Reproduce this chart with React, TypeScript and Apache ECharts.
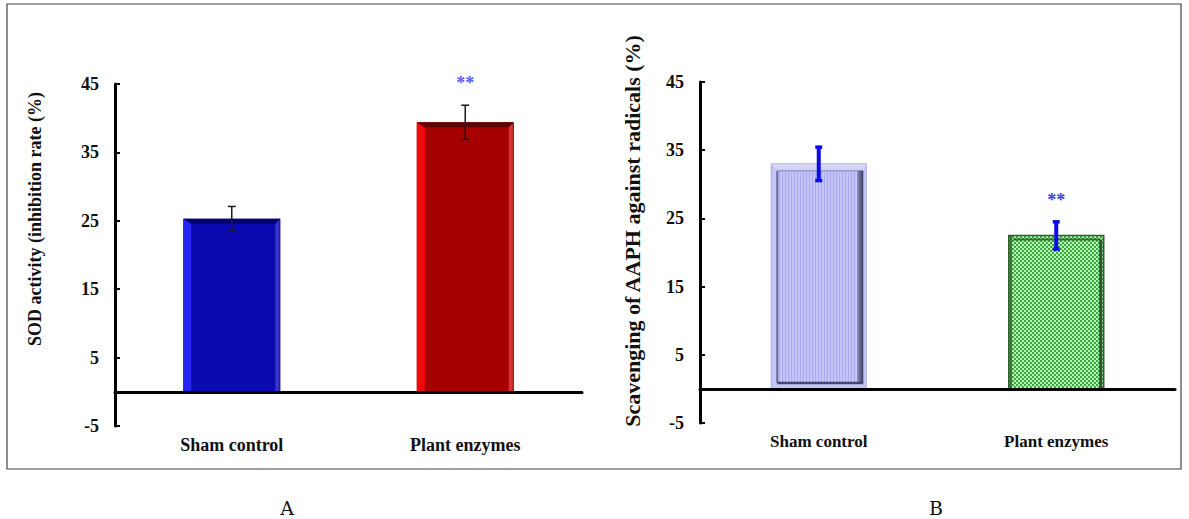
import React, { useEffect, useRef } from "react";
import * as echarts from "echarts";

// ---------- data ----------
const categories = ["Sham control", "Plant enzymes"];

const sodMeans = [25.3, 39.4];
const sodErrors = [1.8, 2.5];
const sodSignificance = ["", "**"];

const aaphMeans = [33.0, 22.5];
const aaphErrors = [2.45, 2.0];
const aaphSignificance = ["", "**"];

const yMin = -5;
const yMax = 45;
const yStep = 10;

const titleA = "SOD activity (inhibition rate (%)";
const titleB = "Scavenging of AAPH against radicals (%)";
const panelLabels = ["A", "B"];

// ---------- styles ----------
const serif = "Liberation Serif, serif";

const bevelColors = [
  { main: "#0a0ab0", left: "#2424f4", top: "#00006c", right: "#3434cc" },
  { main: "#a60000", left: "#f40808", top: "#5c0000", right: "#d83434" },
];

function makeStripes(): HTMLCanvasElement {
  const c = document.createElement("canvas");
  c.width = 3;
  c.height = 4;
  const ctx = c.getContext("2d")!;
  ctx.fillStyle = "#c4c4f8";
  ctx.fillRect(0, 0, 3, 4);
  ctx.fillStyle = "#aaaaee";
  ctx.fillRect(2, 0, 1, 4);
  return c;
}

function makeChecker(): HTMLCanvasElement {
  const c = document.createElement("canvas");
  c.width = 4;
  c.height = 4;
  const ctx = c.getContext("2d")!;
  ctx.fillStyle = "#bdeebd";
  ctx.fillRect(0, 0, 4, 4);
  ctx.fillStyle = "#34ae34";
  ctx.fillRect(0, 0, 2, 2);
  ctx.fillRect(2, 2, 2, 2);
  return c;
}

function bevelBar(x0: number, x1: number, y1: number, yb: number, c: any) {
  const l = 8, t = 5, r = 5;
  return [
    { type: "rect", shape: { x: x0, y: y1, width: x1 - x0, height: yb - y1 }, style: { fill: c.main } },
    { type: "polygon", shape: { points: [[x0, y1], [x0 + l, y1 + t], [x0 + l, yb], [x0, yb]] }, style: { fill: c.left } },
    { type: "polygon", shape: { points: [[x1, y1], [x1, yb], [x1 - r, yb], [x1 - r, y1 + t]] }, style: { fill: c.right } },
    { type: "polygon", shape: { points: [[x0, y1], [x1, y1], [x1 - r, y1 + t], [x0 + l, y1 + t]] }, style: { fill: c.top } },
    { type: "line", shape: { x1: x1 - 0.5, y1: y1, x2: x1 - 0.5, y2: yb }, style: { stroke: "#300000", lineWidth: 1, opacity: 0.5 } },
  ];
}

function lavenderBar(x0: number, x1: number, y1: number, yb: number, stripes: any) {
  const l = 6, t = 7, r = 3, b = 6;
  return [
    { type: "rect", shape: { x: x0, y: y1, width: x1 - x0, height: yb - y1 }, style: { fill: "#c6c6f6", stroke: "#a4a4e2", lineWidth: 1 } },
    { type: "polygon", shape: { points: [[x0, y1], [x1, y1], [x1 - r, y1 + t], [x0 + l, y1 + t]] }, style: { fill: "#d2d2fa" } },
    { type: "rect", shape: { x: x0 + l, y: y1 + t, width: x1 - x0 - l - r, height: yb - y1 - t - b }, style: { fill: { image: stripes, repeat: "repeat", imageWidth: 3, imageHeight: 4 } } },
    { type: "line", shape: { x1: x0 + l, y1: y1 + t, x2: x0 + l, y2: yb - b }, style: { stroke: "#6a6aa0", lineWidth: 2 } },
    { type: "line", shape: { x1: x0 + l, y1: y1 + t, x2: x1 - r, y2: y1 + t }, style: { stroke: "#9a9acc", lineWidth: 1.5 } },
    { type: "rect", shape: { x: x1 - r - 6, y: y1 + t, width: 6, height: yb - y1 - t - b }, style: { fill: new echarts.graphic.LinearGradient(0, 0, 1, 0, [{ offset: 0, color: "#8a8ab8" }, { offset: 1, color: "#3c3c64" }]) } },
    { type: "line", shape: { x1: x0 + l, y1: yb - b, x2: x1 - r, y2: yb - b }, style: { stroke: "#44446c", lineWidth: 2.5 } },
  ];
}

function greenBar(x0: number, x1: number, y1: number, yb: number, checker: any) {
  const inset = 4;
  return [
    { type: "rect", shape: { x: x0, y: y1, width: x1 - x0, height: yb - y1 }, style: { fill: { image: checker, repeat: "repeat", imageWidth: 4, imageHeight: 4 }, stroke: "#2f5f2f", lineWidth: 1.5 } },
    { type: "line", shape: { x1: x0 + inset, y1: y1 + inset, x2: x1 - inset, y2: y1 + inset }, style: { stroke: "#2e5a2e", lineWidth: 2, opacity: 0.85 } },
    { type: "line", shape: { x1: x0 + 2, y1: y1, x2: x0 + 2, y2: yb }, style: { stroke: "#2e5a2e", lineWidth: 2.5, opacity: 0.8 } },
    { type: "line", shape: { x1: x1 - 3, y1: y1 + inset, x2: x1 - 3, y2: yb }, style: { stroke: "#223f22", lineWidth: 3, opacity: 0.85 } },
  ];
}

export default function App() {
  const ref = useRef<HTMLDivElement>(null);

  useEffect(() => {
    if (!ref.current) return;
    const chart = echarts.init(ref.current, undefined, { renderer: "svg" });
    const stripes = makeStripes();
    const checker = makeChecker();

    const barData = (means: number[]) => means.map((v, i) => [i, v]);
    const errData = (means: number[], errs: number[]) => means.map((v, i) => [i, v, errs[i]]);

    const makeXAxis = (gridIndex: number, fontSize: number) => ({
      type: "category",
      gridIndex,
      data: categories,
      z: 5,
      axisLine: { onZero: true, lineStyle: { color: "#000", width: 3 } },
      axisTick: { show: false },
      axisLabel: { color: "#111", fontWeight: "bold", fontSize, fontFamily: serif, margin: 10 },
      splitLine: { show: false },
    });

    const makeYAxis = (gridIndex: number) => ({
      type: "value",
      gridIndex,
      min: yMin,
      max: yMax,
      interval: yStep,
      z: 5,
      axisLine: { show: true, onZero: false, lineStyle: { color: "#000", width: 3 } },
      axisTick: { show: true, inside: true, length: 5, lineStyle: { color: "#000", width: 2 } },
      axisLabel: { color: "#111", fontWeight: "bold", fontSize: 18, fontFamily: serif, margin: 16 },
      splitLine: { show: false },
    });

    const barSeries = (gridIndex: number, means: number[], ratio: number, kind: "bevel" | "pattern") => ({
      type: "custom",
      xAxisIndex: gridIndex,
      yAxisIndex: gridIndex,
      z: 2,
      encode: { x: 0, y: 1 },
      data: barData(means),
      renderItem: (params: any, api: any) => {
        const idx = api.value(0);
        const v = api.value(1);
        const top = api.coord([idx, v]);
        const base = api.coord([idx, 0]);
        const bw = api.size([1, 0])[0] * ratio;
        const x0 = top[0] - bw / 2;
        const x1 = top[0] + bw / 2;
        let children: any[];
        if (kind === "bevel") {
          children = bevelBar(x0, x1, top[1], base[1], bevelColors[params.dataIndex]);
        } else if (params.dataIndex === 0) {
          children = lavenderBar(x0, x1, top[1], base[1], stripes);
        } else {
          children = greenBar(x0, x1, top[1], base[1], checker);
        }
        return { type: "group", children };
      },
    });

    const errSeries = (
      gridIndex: number,
      means: number[],
      errs: number[],
      sig: string[],
      color: string,
      width: number,
      capHalf: number,
      capWidth: number,
      sigColor: string
    ) => ({
      type: "custom",
      xAxisIndex: gridIndex,
      yAxisIndex: gridIndex,
      z: 4,
      encode: { x: 0, y: 1 },
      data: errData(means, errs),
      renderItem: (params: any, api: any) => {
        const idx = api.value(0);
        const m = api.value(1);
        const e = api.value(2);
        const pt = api.coord([idx, m + e]);
        const pb = api.coord([idx, m - e]);
        const cx = pt[0];
        const children: any[] = [
          { type: "line", shape: { x1: cx, y1: pt[1], x2: cx, y2: pb[1] }, style: { stroke: color, lineWidth: width } },
          { type: "line", shape: { x1: cx - capHalf, y1: pt[1], x2: cx + capHalf, y2: pt[1] }, style: { stroke: color, lineWidth: capWidth } },
          { type: "line", shape: { x1: cx - capHalf, y1: pb[1], x2: cx + capHalf, y2: pb[1] }, style: { stroke: color, lineWidth: capWidth } },
        ];
        const s = sig[params.dataIndex];
        if (s) {
          children.push({
            type: "text",
            style: {
              text: s,
              x: cx,
              y: pt[1] - 22,
              align: "center",
              verticalAlign: "middle",
              fill: sigColor,
              font: `bold 18px ${serif}`,
            },
          });
        }
        return { type: "group", children };
      },
    });

    chart.setOption({
      animation: false,
      backgroundColor: "#ffffff",
      grid: [
        { left: 115, right: 607, top: 84, bottom: 93, containLabel: false },
        { left: 700, right: 14, top: 82, bottom: 96, containLabel: false },
      ],
      xAxis: [makeXAxis(0, 18), makeXAxis(1, 17)],
      yAxis: [makeYAxis(0), makeYAxis(1)],
      series: [
        barSeries(0, sodMeans, 0.415, "bevel"),
        errSeries(0, sodMeans, sodErrors, sodSignificance, "#1a1a1a", 1.5, 4, 1.5, "#5a5aee"),
        barSeries(1, aaphMeans, 0.4, "pattern"),
        errSeries(1, aaphMeans, aaphErrors, aaphSignificance, "#0a0ae6", 4, 3.5, 3.5, "#3c3ce8"),
      ],
      graphic: [
        { type: "rect", silent: true, z: 0, shape: { x: 7, y: 4, width: 1174, height: 465 }, style: { fill: "none", stroke: "#444", lineWidth: 1.2 } },
        { type: "text", silent: true, x: 35, y: 219, rotation: Math.PI / 2, style: { text: titleA, align: "center", verticalAlign: "middle", fill: "#111", font: `bold 18px ${serif}` } },
        { type: "text", silent: true, x: 632, y: 231, rotation: Math.PI / 2, style: { text: titleB, align: "center", verticalAlign: "middle", fill: "#111", font: `bold 22px ${serif}` } },
        { type: "text", silent: true, x: 287, y: 508, style: { text: panelLabels[0], align: "center", verticalAlign: "middle", fill: "#111", font: `19px DejaVu Serif, serif` } },
        { type: "text", silent: true, x: 936, y: 508, style: { text: panelLabels[1], align: "center", verticalAlign: "middle", fill: "#111", font: `19px DejaVu Serif, serif` } },
      ],
    });

    return () => chart.dispose();
  }, []);

  return (
    <div
      ref={ref}
      style={{ position: "absolute", left: 0, top: 0, width: 1189, height: 519, background: "#fff" }}
    />
  );
}
